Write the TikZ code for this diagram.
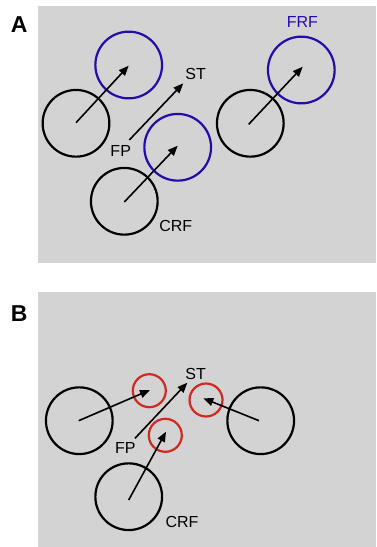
\documentclass[tikz,border=0pt]{standalone}
\usepackage{fontspec}
\setmainfont{Liberation Sans}
\usetikzlibrary{arrows.meta}
\definecolor{bgray}{RGB}{211,211,211}
\definecolor{rfblue}{RGB}{40,10,170}
\definecolor{rfred}{RGB}{210,40,30}
\begin{document}
\begin{tikzpicture}[x=1pt,y=-1pt,
  crf/.style={draw=black,line width=2.2pt,circle,minimum size=66.7pt,inner sep=0pt},
  frf/.style={draw=rfblue,line width=2.2pt,circle,minimum size=66.7pt,inner sep=0pt},
  srf/.style={draw=rfred,line width=2.2pt,circle,minimum size=33pt,inner sep=0pt},
  vec/.style={line width=1.6pt,-{Triangle[length=10pt,width=8pt]}},
  lbl/.style={font=\fontsize{16}{18}\selectfont,inner sep=0pt},
  panel/.style={font=\bfseries\fontsize{23}{25}\selectfont,inner sep=0pt}]
\useasboundingbox (0,0) rectangle (376,547);
% Panel A
\fill[bgray] (38.3,6) rectangle (376,262.7);
\node[panel] (A) at (19.3,25) {A};
\node[crf] (ac1) at (76,123.3) {};
\node[frf] (af1) at (128.7,65) {};
\node[crf] (ac2) at (124.3,201.3) {};
\node[frf] (af2) at (177.7,147.3) {};
\node[crf] (ac3) at (250.3,123.3) {};
\node[frf] (af3) at (301.3,70) {};
\coordinate (aa1s) at (76,122.7); \coordinate (aa1e) at (128.7,65.7);
\coordinate (aa2s) at (124.3,202) ; \coordinate (aa2e) at (177.7,145.7);
\coordinate (aa3s) at (248.7,124.3); \coordinate (aa3e) at (302.7,66.7);
\coordinate (afps) at (129.3,140); \coordinate (afpe) at (183.3,83.3);
\draw[vec] (aa1s) -- (aa1e);
\draw[vec] (aa2s) -- (aa2e);
\draw[vec] (aa3s) -- (aa3e);
\draw[vec] (afps) -- (afpe);
\node[lbl] (aST) at (195.7,74) {ST};
\node[lbl] (aFP) at (120.7,150.7) {FP};
\node[lbl] (aCRF) at (175.7,225.7) {CRF};
\node[lbl,text=rfblue] (aFRF) at (302.3,22.3) {FRF};
% Panel B
\fill[bgray] (38.3,292) rectangle (376,546.7);
\node[panel] (B) at (19.3,313.3) {B};
\node[crf] (bc1) at (79.3,420.7) {};
\node[srf] (bs1) at (149.3,390.7) {};
\node[crf] (bc2) at (128.7,496.7) {};
\node[srf] (bs3) at (165.3,435.3) {};
\node[crf] (bc3) at (260.7,420.7) {};
\node[srf] (bs2) at (206,400) {};
\coordinate (ba1s) at (78.7,420.7); \coordinate (ba1e) at (150,390);
\coordinate (ba2s) at (128.7,500); \coordinate (ba2e) at (166,431.7);
\coordinate (ba3s) at (259,420.7); \coordinate (ba3e) at (203.3,398.3);
\coordinate (bfps) at (135,438.3); \coordinate (bfpe) at (187.3,382.7);
\draw[vec] (ba1s) -- (ba1e);
\draw[vec] (ba2s) -- (ba2e);
\draw[vec] (ba3s) -- (ba3e);
\draw[vec] (bfps) -- (bfpe);
\node[lbl] (bST) at (195.7,374.3) {ST};
\node[lbl] (bFP) at (125.3,448.3) {FP};
\node[lbl] (bCRF) at (182,521.7) {CRF};
\end{tikzpicture}
\end{document}
